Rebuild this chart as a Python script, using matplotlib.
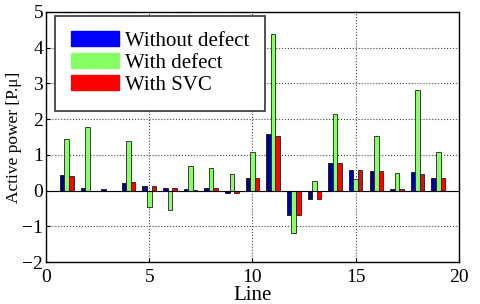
import matplotlib
matplotlib.use("Agg")
import matplotlib.pyplot as plt
from matplotlib.patches import Patch
import numpy as np

plt.rcParams['font.family'] = ['Liberation Serif', 'DejaVu Serif']

# line numbers and active power per case
lines = np.arange(1, 20)
without_defect = [0.44, 0.08, 0.03, 0.20, 0.12, 0.07, 0.03, 0.06, -0.08, 0.36,
                  1.58, -0.69, -0.23, 0.78, 0.58, 0.56, 0.05, 0.51, 0.36]
with_defect = [1.43, 1.78, 0.0, 1.38, -0.45, -0.53, 0.69, 0.62, 0.46, 1.09,
               4.38, -1.20, 0.28, 2.13, 0.31, 1.54, 0.48, 2.81, 1.09]
with_svc = [0.42, 0.0, 0.0, 0.24, 0.14, 0.08, 0.01, 0.06, -0.08, 0.35,
            1.54, -0.69, -0.23, 0.76, 0.58, 0.56, 0.03, 0.47, 0.35]

fig = plt.figure(figsize=(4.8, 3.04), dpi=100)
ax = fig.add_axes([0.096, 0.138, 0.86, 0.823])

w = 0.22
ax.bar(lines - w, without_defect, w, color='#00009a', edgecolor='#101010', linewidth=0.6, zorder=3)
ax.bar(lines, with_defect, w, color='#88ff66', edgecolor='#202020', linewidth=0.6, zorder=3)
ax.bar(lines + w, with_svc, w, color='#ff0000', edgecolor='#202020', linewidth=0.6, zorder=3)
ax.axhline(0, color='black', linewidth=0.8, zorder=4)

ax.set_xlim(0, 20)
ax.set_ylim(-2, 5)
ax.set_xticks([0, 5, 10, 15, 20])
ax.set_yticks(range(-2, 6))
ax.grid(True, linestyle=':', color='#444444', linewidth=0.8)
ax.set_axisbelow(True)
ax.tick_params(direction='in', length=3, labelsize=14)
ax.tick_params(axis='x', pad=5)
ax.tick_params(axis='y', pad=2)
for s in ax.spines.values():
    s.set_linewidth(1.0)

ax.set_xlabel("Line", fontsize=15)
ax.xaxis.set_label_coords(0.5, -0.095, transform=ax.transAxes)
ax.xaxis.label.set_va('top')
ax.set_ylabel("Active power [P.\u03bc]", fontsize=12.5, labelpad=0)

handles = [Patch(facecolor='#0000ff', edgecolor='#0000ff'),
           Patch(facecolor='#88ff66', edgecolor='#88ff66'),
           Patch(facecolor='#ff0000', edgecolor='#ff0000')]
leg = ax.legend(handles, ["Without defect", "With defect", "With SVC"],
                loc='upper left', bbox_to_anchor=(0.022, 0.985), fontsize=15,
                fancybox=False, framealpha=1, edgecolor='#333333',
                handlelength=2.3, handleheight=0.7, labelspacing=0.12,
                borderpad=0.75, handletextpad=0.3, borderaxespad=0)
leg.get_frame().set_linewidth(1.2)

fig.savefig("out.png", dpi=100)
